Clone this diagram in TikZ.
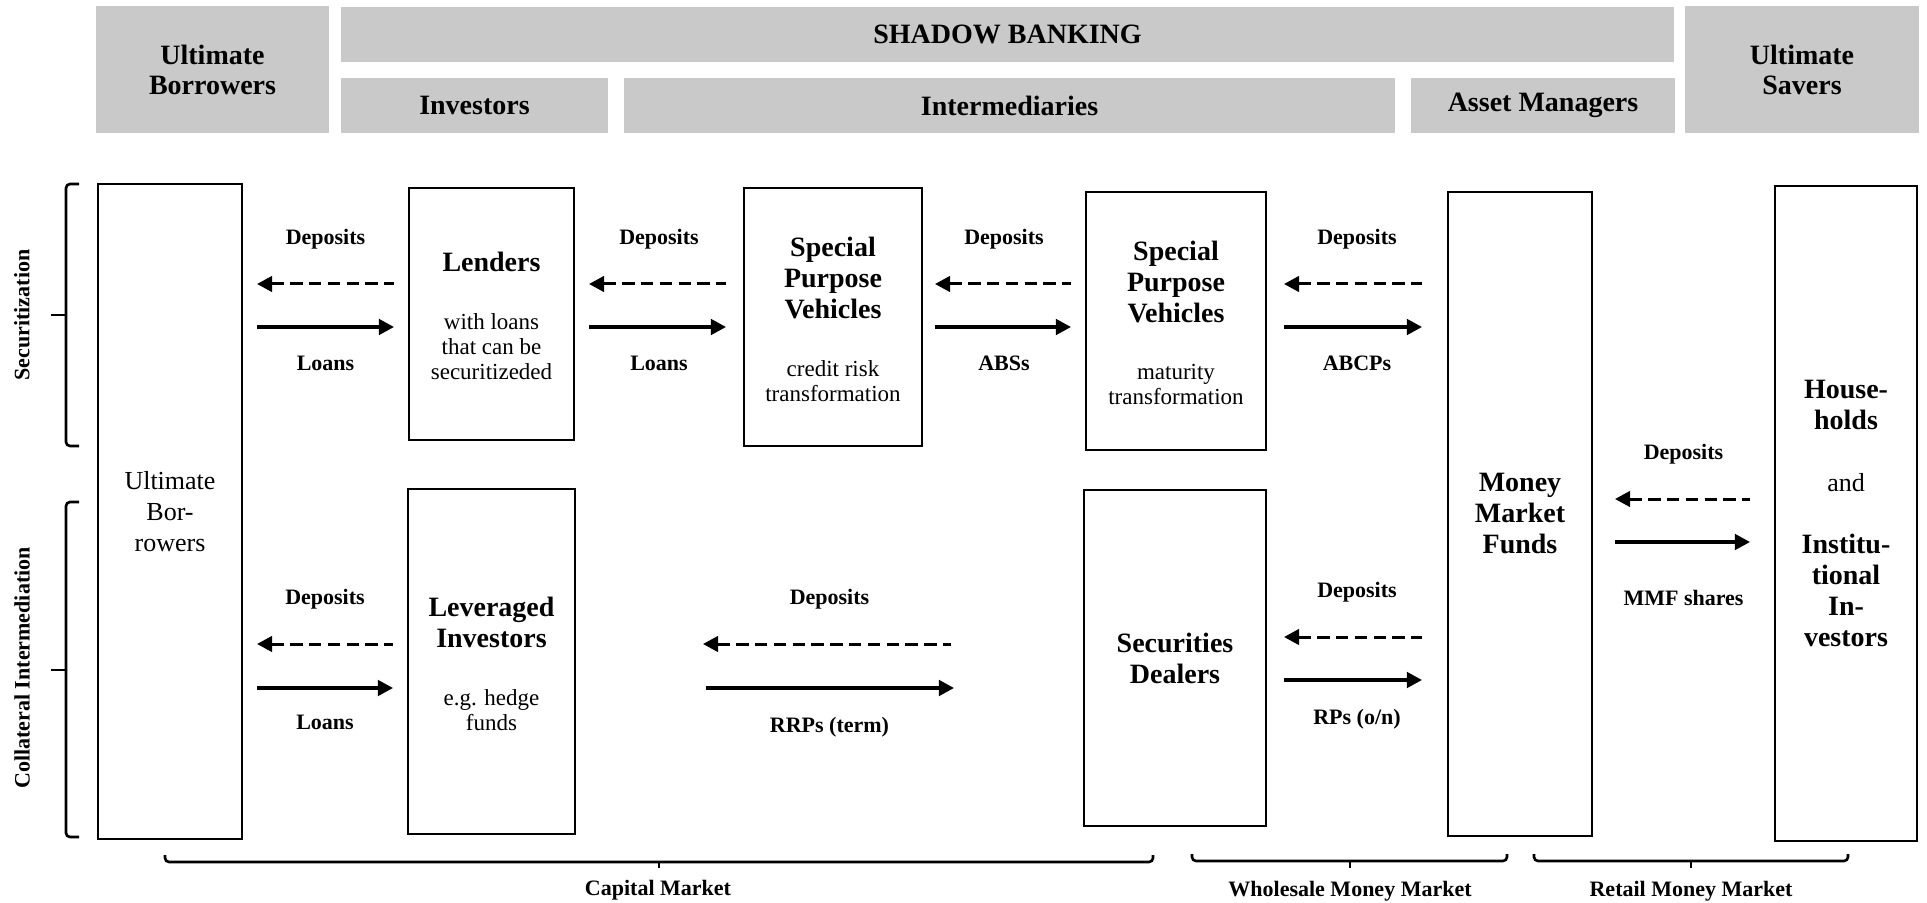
\documentclass[tikz,border=0pt]{standalone}
\usepackage{fontspec}
\setmainfont{Liberation Serif}
\usetikzlibrary{arrows.meta,positioning}
\definecolor{hdrgray}{RGB}{201,201,201}
\newcommand\fHdr{\fontsize{14}{15}\selectfont\bfseries}
\newcommand\fTtl{\fontsize{14}{15.5}\selectfont\bfseries}
\newcommand\fSub{\fontsize{11.5}{12.5}\selectfont}
\newcommand\fLbl{\fontsize{11}{13}\selectfont\bfseries}
\newcommand\fBig{\fontsize{13}{15.5}\selectfont\mdseries}
\begin{document}
\begin{tikzpicture}[x=0.5pt,y=-0.5pt,
        hdr/.style={fill=hdrgray,font=\fHdr,align=center,inner sep=0pt},
        box/.style={draw,line width=1pt,align=center,inner sep=0pt},
        ttl/.style={font=\fTtl,align=center,inner sep=0pt},
        sub/.style={font=\fSub,align=center,inner sep=0pt},
        lbl/.style={font=\fLbl,align=center,inner sep=0pt},
        flow/.style={line width=1.6pt,-{Triangle[length=7.6pt,width=7.8pt]},shorten <=7pt,shorten >=7pt},
        dep/.style={line width=1.5pt,dash pattern=on 6.2pt off 3.2pt,{Triangle[length=7.6pt,width=7.8pt]}-,shorten <=7pt,shorten >=7pt},
        brk/.style={line width=1.3pt,rounded corners=2pt}]
        \useasboundingbox (0,0) rectangle (1927,903);

        \node[hdr,minimum width=116.5pt,minimum height=63.5pt] (hUB) at (212.5,69.5) {Ultimate\\Borrowers};
        \node[hdr,minimum width=666.5pt,minimum height=27.5pt] (hSB) at (1007.5,34.5) {SHADOW BANKING};
        \node[hdr,minimum width=133.5pt,minimum height=27.5pt] (hInv) at (474.5,105.5) {Investors};
        \node[hdr,minimum width=385.5pt,minimum height=27.5pt] (hInt) at (1009.5,105.5) {Intermediaries};
        \node[hdr,minimum width=132pt,minimum height=27.5pt] (hAM) at (1543,105.5) {Asset Managers};
        \node[hdr,minimum width=117pt,minimum height=63.5pt] (hUS) at (1802,69.5) {Ultimate\\Savers};

        \node[box,font=\fBig,minimum width=72pt,minimum height=327.5pt] (ub) at (170,511.5) {Ultimate\\Bor-\\rowers};
        \node[box,minimum width=82.5pt,minimum height=126pt] (lend) at (491.5,314) {};
        \node[ttl] (lendT) at (491.5,262) {Lenders};
        \node[sub] (lendS) at (491.5,347) {with loans\\that can be\\securitizeded};
        \node[box,minimum width=89pt,minimum height=129pt] (spvA) at (833,317) {};
        \node[ttl] (spvAT) at (833,278) {Special\\Purpose\\Vehicles};
        \node[sub] (spvAS) at (833,381) {credit risk\\transformation};
        \node[box,minimum width=90pt,minimum height=129pt] (spvB) at (1176,321) {};
        \node[ttl] (spvBT) at (1176,281.5) {Special\\Purpose\\Vehicles};
        \node[sub] (spvBS) at (1176,384.5) {maturity\\transformation};
        \node[box,minimum width=83.5pt,minimum height=172.5pt] (lev) at (491.5,661.5) {};
        \node[ttl] (levT) at (491.5,622) {Leveraged\\Investors};
        \node[sub] (levS) at (491.5,710.5) {e.g. hedge\\funds};
        \node[box,font=\fTtl,minimum width=91pt,minimum height=168pt] (sd) at (1175,658) {Securities\\Dealers};
        \node[box,font=\fTtl,minimum width=72pt,minimum height=322pt] (mmf) at (1520,514) {Money\\Market\\Funds};
        \node[box,font=\fTtl,minimum width=71pt,minimum height=327.5pt] (hh) at (1846,513.5) {House-\\holds\\[15.5pt]{\fBig and}\\[15.5pt]Institu-\\tional\\In-\\vestors};

        \coordinate (secD) at (0,284);
        \coordinate (secL) at (0,327);
        \coordinate (colD) at (0,644);
        \coordinate (colL) at (0,688);
        \coordinate (wsD) at (0,637);
        \coordinate (wsL) at (0,680);
        \coordinate (rtD) at (0,499);
        \coordinate (rtL) at (0,542);

        \draw[dep] (ub.east |- secD) -- (lend.west |- secD) node[lbl,midway,above=16.6pt] (dpA) {Deposits};
        \draw[flow] (ub.east |- secL) -- (lend.west |- secL) node[lbl,midway,below=13.7pt] (lnA) {Loans};
        \draw[dep,shorten >=8.5pt] (lend.east |- secD) -- (spvA.west |- secD) node[lbl,midway,above=16.6pt] (dpB) {Deposits};
        \draw[flow,shorten >=8.5pt] (lend.east |- secL) -- (spvA.west |- secL) node[lbl,midway,below=13.7pt] (lnB) {Loans};
        \draw[dep,shorten <=6pt] (spvA.east |- secD) -- (spvB.west |- secD) node[lbl,midway,above=16.6pt] (dpC) {Deposits};
        \draw[flow,shorten <=6pt] (spvA.east |- secL) -- (spvB.west |- secL) node[lbl,midway,below=13.7pt] (abs) {ABSs};
        \draw[dep,shorten <=8.5pt,shorten >=12.5pt] (spvB.east |- secD) -- (mmf.west |- secD) node[lbl,midway,above=16.6pt] (dpD) {Deposits};
        \draw[flow,shorten <=8.5pt,shorten >=12.5pt] (spvB.east |- secL) -- (mmf.west |- secL) node[lbl,midway,below=13.7pt] (abcp) {ABCPs};

        \draw[dep] (ub.east |- colD) -- (lev.west |- colD) node[lbl,midway,above=16.6pt] (dpE) {Deposits};
        \draw[flow] (ub.east |- colL) -- (lev.west |- colL) node[lbl,midway,below=12.7pt] (lnC) {Loans};
        \draw[dep,shorten <=63.5pt,shorten >=66pt] (lev.east |- colD) -- (sd.west |- colD) node[lbl,midway,above=16.6pt] (dpF) {Deposits};
        \draw[flow,shorten <=65pt,shorten >=64.5pt] (lev.east |- colL) -- (sd.west |- colL) node[lbl,midway,below=13.7pt] (rrp) {RRPs (term)};
        \draw[dep,shorten <=8.5pt,shorten >=12.5pt] (sd.east |- wsD) -- (mmf.west |- wsD) node[lbl,midway,above=16.6pt] (dpG) {Deposits};
        \draw[flow,shorten <=8.5pt,shorten >=12.5pt] (sd.east |- wsL) -- (mmf.west |- wsL) node[lbl,midway,below=13.7pt] (rp) {RPs (o/n)};
        \draw[dep,shorten <=11pt,shorten >=12pt] (mmf.east |- rtD) -- (hh.west |- rtD) node[lbl,midway,above=16.6pt] (dpH) {Deposits};
        \draw[flow,shorten <=11pt,shorten >=12pt] (mmf.east |- rtL) -- (hh.west |- rtL) node[lbl,midway,below=23.2pt] (mmfs) {MMF shares};

        \draw[brk] (79,184) -- (66,184) -- (66,446) -- (79,446);
        \draw[brk] (66,315) -- (51,315);
        \node[lbl,rotate=90] (secN) at (22,315) {Securitization};
        \draw[brk] (79,502) -- (66,502) -- (66,837) -- (79,837);
        \draw[brk] (66,670) -- (51,670);
        \node[lbl,rotate=90] (colN) at (22,668) {Collateral Intermediation};

        \draw[brk] (165,855) -- (165,862) -- (1153,862) -- (1153,855);
        \draw[brk] (659,862) -- (659,868);
        \node[lbl] (capN) at (658,890) {Capital Market};
        \draw[brk] (1192,854) -- (1192,861) -- (1507,861) -- (1507,854);
        \draw[brk] (1350,861) -- (1350,868);
        \node[lbl] (wsN) at (1350,891) {Wholesale Money Market};
        \draw[brk] (1534,854) -- (1534,861) -- (1848,861) -- (1848,854);
        \draw[brk] (1691,861) -- (1691,868);
        \node[lbl] (rtN) at (1691,891) {Retail Money Market};
    \end{tikzpicture}
\end{document}
